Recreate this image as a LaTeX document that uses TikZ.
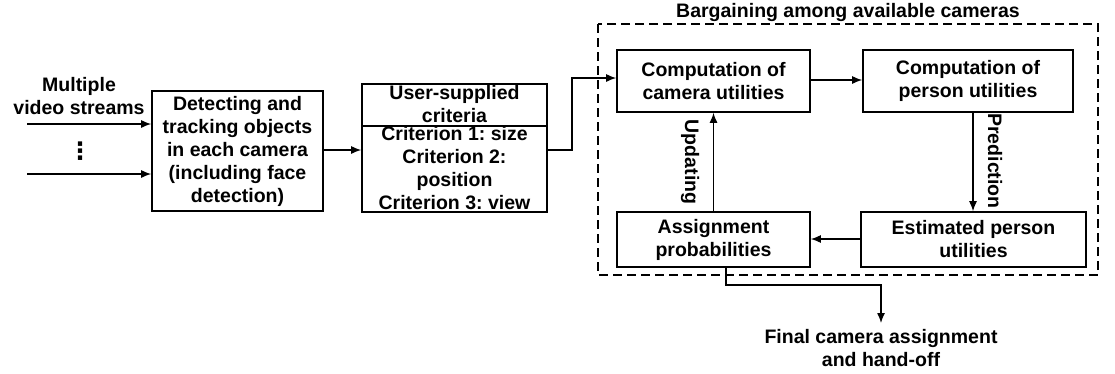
\documentclass[tikz,border=0pt]{standalone}
\usepackage{fontspec}
\setmainfont{Liberation Sans}
\newfontfamily\symfont{DejaVu Sans}
\usetikzlibrary{arrows.meta}
\frenchspacing
\begin{document}
\begin{tikzpicture}[x=1pt,y=-1pt,
  box/.style={draw, line width=1.6pt, inner sep=0pt},
  txt/.style={inner sep=0pt, align=center, font=\fontsize{19.5}{23}\selectfont\bfseries},
  conn/.style={line width=1.3pt, -{Latex[length=10pt,width=8pt]}},
  plain/.style={line width=1.3pt}]
\useasboundingbox (0,0) rectangle (1115,373);
% left inputs
\node[txt] (inlab) at (79,96) {Multiple\\video streams};
\coordinate (in1) at (27,124);
\coordinate (in2) at (27,174);
\node[inner sep=0pt, font=\symfont\fontsize{24}{26}\selectfont\bfseries] (dots) at (80,151) {⋮};
% detecting box
\node[box, minimum width=171pt, minimum height=120pt] (det) at (237.5,151) {};
\node[txt] (dett) at (det.center) {Detecting and\\tracking objects\\in each camera\\(including face\\detection)};
% criteria box
\node[box, minimum width=185pt, minimum height=42pt] (critH) at (454.5,105) {};
\node[box, minimum width=185pt, minimum height=86pt] (critB) at (454.5,169) {};
\node[txt] (critHt) at (454.5,104.5) {User-supplied\\criteria};
\node[txt] (critBt) at (454.5,168) {Criterion 1: size\\Criterion 2:\\position\\Criterion 3: view};
% bargaining group
\draw[line width=1.3pt, dash pattern=on 9pt off 5pt] (598,24) rectangle (1098,275);
\node[txt] (title) at (848,12) {Bargaining among available cameras};
\node[box, minimum width=193pt, minimum height=62pt] (cam) at (713.5,81) {};
\node[txt] at (cam.center) {Computation of\\camera utilities};
\node[box, minimum width=210pt, minimum height=62pt] (per) at (968,81) {};
\node[txt] at (per.center) {Computation of\\person utilities};
\node[box, minimum width=193pt, minimum height=55pt] (asg) at (713.5,239.5) {};
\node[txt] at (asg.center) {Assignment\\probabilities};
\node[box, minimum width=225pt, minimum height=55pt] (est) at (973.5,239.5) {};
\node[txt] at (est.center) {Estimated person\\utilities};
\node[txt, rotate=-90] (pred) at (995,161) {Prediction};
\node[txt, rotate=-90] (upd) at (690,162) {Updating};
% final
\coordinate (fin) at (881,323);
\node[txt] (fint) at (881,348.5) {Final camera assignment\\and hand-off};
% connectors
\draw[conn] (in1) -- (in1 -| det.west);
\draw[conn] (in2) -- (in2 -| det.west);
\draw[conn] (det.east |- 0,150) -- (critB.west |- 0,150);
\draw[conn] (critB.east |- 0,150) -- (572,150) -- (572,78) -- (cam.west |- 0,78);
\draw[conn] (cam.east |- 0,80) -- (per.west |- 0,80);
\draw[conn] (per.south -| 973,0) -- (est.north -| 973,0);
\draw[conn] (est.west |- 0,239) -- (asg.east |- 0,239);
\draw[conn] (asg.north) -- (cam.south);
\draw[conn] (asg.south -| 726,0) -- (726,285) -- (881,285) -- (fin);
\end{tikzpicture}
\end{document}
